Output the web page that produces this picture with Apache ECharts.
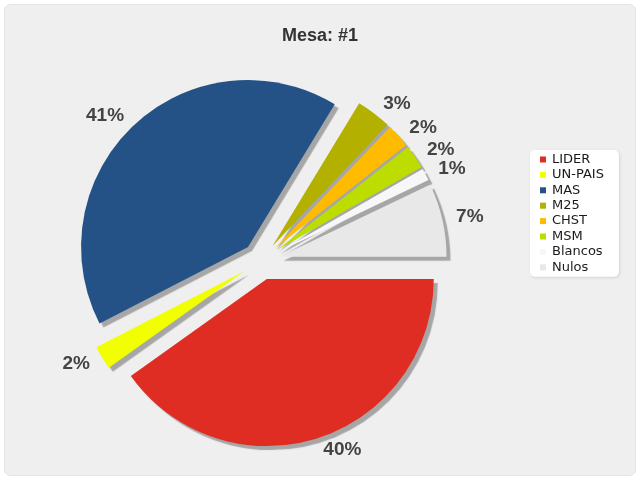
<!DOCTYPE html>
<html>
<head>
<meta charset="utf-8">
<script src="https://cdn.jsdelivr.net/npm/echarts@6/dist/echarts.min.js"></script>
<style>
html,body{margin:0;padding:0;background:#fff;}
#chart{width:640px;height:480px;}
</style>
</head>
<body>
<div id="chart"></div>
<script>
const titleText = 'Mesa: #1';
const categories = ['LIDER', 'UN-PAIS', 'MAS', 'M25', 'CHST', 'MSM', 'Blancos', 'Nulos'];
const values = [40.1, 2.3, 41.2, 3.4, 2.3, 2.3, 1.2, 7.1];
const colors = ['#E02D24', '#F2FF00', '#245287', '#B3B000', '#FFBB00', '#BDDD00', '#F7F7F7', '#E8E8E8'];

const chart = echarts.init(document.getElementById('chart'), null, {renderer: 'canvas'});
const option = {
  animation: false,
  backgroundColor: '#ffffff',
  graphic: [{
    type: 'rect', z: -1, silent: true,
    shape: {x: 4.5, y: 4.5, width: 631, height: 471, r: 6},
    style: {fill: '#efefef', stroke: '#e3e3e3', lineWidth: 1}
  }],
  title: {
    text: titleText,
    left: 'center',
    top: 22,
    textStyle: {fontFamily: 'Liberation Sans, Arial, sans-serif', fontSize: 18, fontWeight: 'bold', color: '#333'}
  },
  legend: {
    orient: 'vertical',
    left: 530,
    top: 150,
    width: 89,
    padding: [3, 15, 3, 10],
    backgroundColor: '#ffffff',
    borderRadius: 5,
    shadowColor: 'rgba(0,0,0,0.12)',
    shadowBlur: 3,
    shadowOffsetX: 1,
    shadowOffsetY: 1,
    icon: 'rect',
    itemWidth: 6,
    itemHeight: 6,
    itemGap: 2.4,
    selectedMode: false,
    textStyle: {fontFamily: 'DejaVu Sans, sans-serif', fontSize: 13, color: '#1a1a1a', padding: [0, 0, 0, 1]},
    data: categories
  },
  series: [{
    type: 'pie',
    center: [261, 261],
    radius: 167,
    startAngle: 0,
    clockwise: true,
    selectedMode: 'multiple',
    selectedOffset: 19,
    avoidLabelOverlap: false,
    minShowLabelAngle: 0,
    labelLayout: {hideOverlap: false},
    emphasis: {disabled: true},
    select: {itemStyle: {borderWidth: 0}},
    itemStyle: {
      shadowColor: '#a6a6a6',
      shadowBlur: 1,
      shadowOffsetX: 4,
      shadowOffsetY: 4
    },
    label: {
      show: true,
      position: 'outside',
      distanceToLabelLine: 2,
      formatter: p => Math.round(p.percent) + '%',
      fontFamily: 'Liberation Sans, Arial, sans-serif',
      fontSize: 19,
      fontWeight: 'bold',
      color: '#444'
    },
    labelLine: {show: false, length: 12, length2: 0},
    data: categories.map((c, i) => ({
      name: c, value: values[i], selected: true,
      itemStyle: {color: colors[i]}
    }))
  }]
};
chart.setOption(option);
</script>
</body>
</html>
